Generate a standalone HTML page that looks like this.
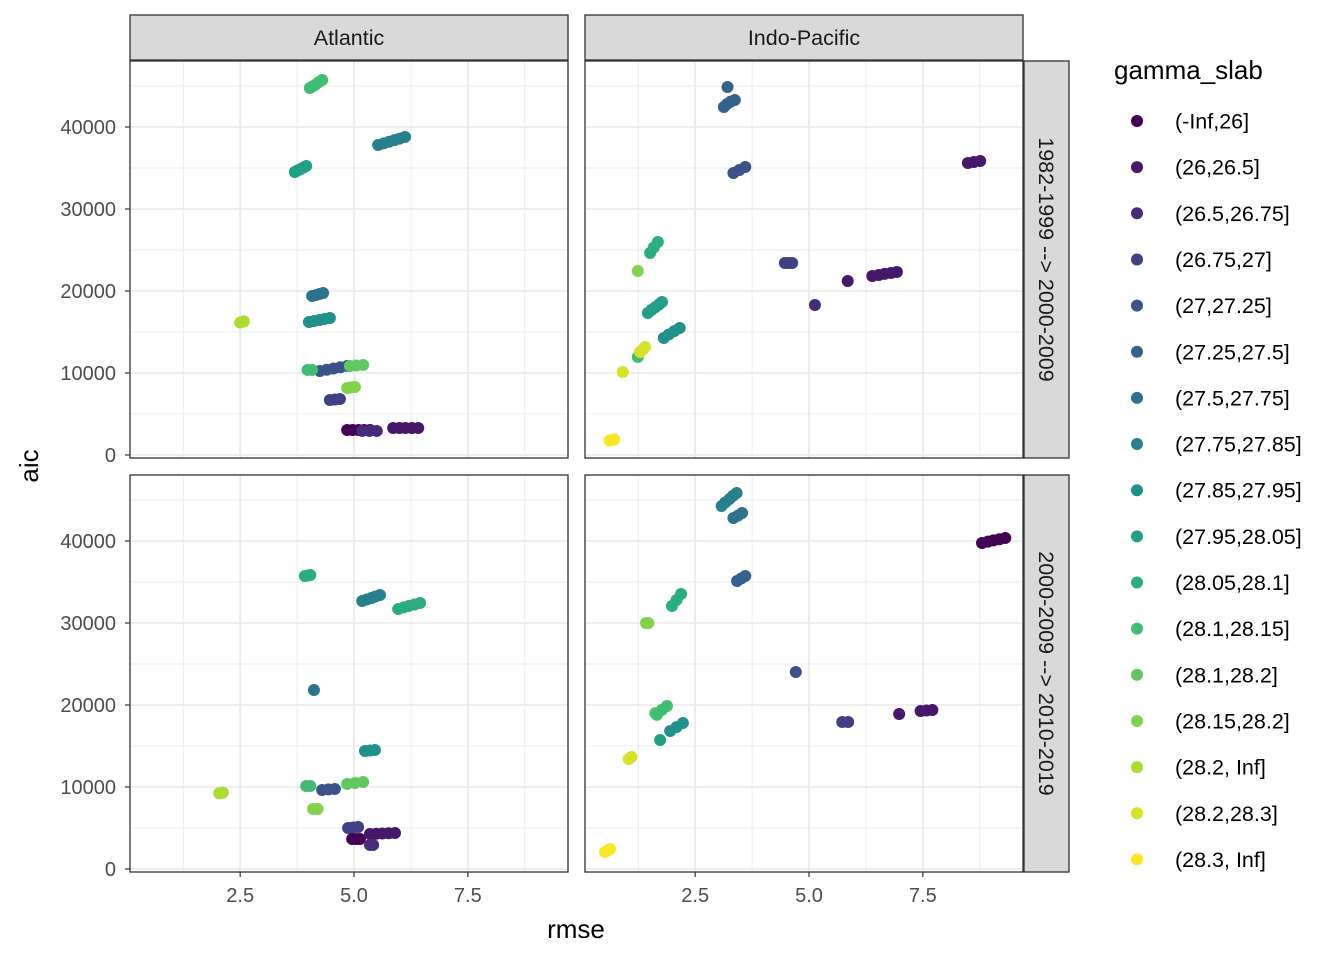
<!DOCTYPE html>
<html><head><meta charset="utf-8"><style>
body{margin:0;background:#fff;}
svg text{font-family:"Liberation Sans",sans-serif;}
</style></head><body>
<svg id="chart" width="1344" height="960" xmlns="http://www.w3.org/2000/svg"></svg>
<script>
const levelLabels=["(-Inf,26]","(26,26.5]","(26.5,26.75]","(26.75,27]","(27,27.25]","(27.25,27.5]","(27.5,27.75]","(27.75,27.85]","(27.85,27.95]","(27.95,28.05]","(28.05,28.1]","(28.1,28.15]","(28.1,28.2]","(28.15,28.2]","(28.2, Inf]","(28.2,28.3]","(28.3, Inf]"];
const xTicks=[2.5,5.0,7.5];
const xTickLabels=["2.5","5.0","7.5"];
const yTicks=[0,10000,20000,30000,40000];
const colLabels=["Atlantic","Indo-Pacific"];
const rowLabels=["1982-1999 --> 2000-2009","2000-2009 --> 2010-2019"];
// panel 0: Atlantic top, 1: Indo-Pacific top, 2: Atlantic bottom, 3: Indo-Pacific bottom
const p0x=[4.03,4.09,4.15,4.22,4.30, 5.53,5.65,5.77,5.89,6.0,6.12, 3.70,3.76,3.83,3.89,3.95, 4.08,4.16,4.24,4.32, 2.50,2.58, 4.01,4.12,4.24,4.35,4.47, 4.25,4.4,4.55,4.7,4.85, 3.98,4.08, 4.91,5.05,5.2, 4.85,4.93,5.02, 4.47,4.58,4.69, 4.85,4.97,5.1,5.22,5.35, 5.18,5.34,5.5, 5.86,6.0,6.13,6.27,6.41];
const p0y=[44760,44950,45150,45450,45730, 37800,38000,38200,38400,38580,38780, 34510,34700,34880,35060,35240, 19390,19500,19630,19760, 16150,16290, 16220,16340,16460,16580,16710, 10240,10400,10550,10700,10850, 10370,10370, 10850,10910,10980, 8170,8230,8290, 6710,6770,6830, 3050,3050,3050,3050,3050, 2930,2930,2930, 3290,3290,3290,3290,3290];
const p0l=[11,11,11,11,11, 7,7,7,7,7,7, 9,9,9,9,9, 6,6,6,6, 14,14, 8,8,8,8,8, 4,4,4,4,4, 11,11, 12,12,12, 13,13,13, 3,3,3, 0,0,0,0,0, 2,2,2, 1,1,1,1,1];
const p1x=[1.51,1.59,1.68, 1.24, 1.46,1.54,1.62,1.70,1.77, 1.81,1.92,2.04,2.16, 1.24, 1.29,1.35,1.40, 0.91, 0.62,0.72, 3.21, 3.13,3.2,3.28,3.37, 3.34,3.47,3.60, 4.47,4.55,4.63, 5.13, 5.85, 6.39,6.53,6.66,6.8,6.93, 8.49,8.62,8.76];
const p1y=[24630,25300,25980, 22440, 17320,17700,18000,18330,18660, 14270,14700,15100,15490, 11950, 12560,12860,13170, 10120, 1770,1900, 44880, 42440,42800,43100,43290, 34390,34750,35120, 23410,23410,23410, 18290, 21220, 21830,21950,22080,22200,22320, 35610,35730,35850];
const p1l=[10,10,10, 13, 9,9,9,9,9, 8,8,8,8, 11, 15,15,15, 15, 16,16, 5, 5,5,5,5, 4,4,4, 3,3,3, 2, 1, 1,1,1,1,1, 1,1,1];
const p2x=[3.92,3.98,4.04, 5.18,5.28,5.38,5.47,5.57, 5.97,6.09,6.2,6.33,6.45, 4.12, 2.04,2.12, 5.24,5.35,5.46, 3.95,4.04, 4.30,4.44,4.58, 4.85,5.02,5.2, 4.10,4.2, 4.87,4.98,5.09, 4.96,5.05,5.13, 5.35,5.49,5.62,5.76,5.90, 5.35,5.42];
const p2y=[35730,35790,35850, 32680,32870,33050,33230,33410, 31710,31900,32070,32250,32440, 21830, 9230,9310, 14390,14450,14510, 10120,10120, 9630,9700,9760, 10370,10490,10610, 7320,7320, 5000,5060,5120, 3660,3660,3660, 4270,4300,4330,4360,4390, 2930,2930];
const p2l=[10,10,10, 7,7,7,7,7, 10,10,10,10,10, 6, 14,14, 8,8,8, 11,11, 4,4,4, 12,12,12, 13,13, 3,3,3, 0,0,0, 1,1,1,1,1, 2,2];
const p3x=[3.08,3.16,3.25,3.33,3.41, 3.34,3.44,3.53, 3.42,3.51,3.60, 1.99,2.09,2.19, 1.42,1.47, 4.71, 5.73,5.86, 6.98, 7.45,7.58,7.71, 8.80,8.93,9.05,9.18,9.31, 1.62,1.66, 1.66,1.77,1.88, 1.73, 1.95,2.09,2.23, 1.04,1.10, 0.52,0.58,0.63];
const p3y=[44270,44700,45100,45500,45850, 42810,43100,43410, 35120,35430,35730, 32070,32800,33540, 30000,30000, 24020, 17930,17930, 18900, 19270,19330,19390, 39760,39920,40070,40220,40370, 19000,18800, 18900,19400,19880, 15730, 16830,17300,17800, 13400,13650, 2070,2250,2440];
const p3l=[7,7,7,7,7, 6,6,6, 5,5,5, 10,10,10, 13,13, 4, 3,3, 1, 1,1,1, 0,0,0,0,0, 12,12, 11,11,11, 9, 8,8,8, 15,15, 16,16,16];
const panelsX=[p0x,p1x,p2x,p3x], panelsY=[p0y,p1y,p2y,p3y], panelsL=[p0l,p1l,p2l,p3l];

const stops=["#440154","#482475","#414487","#355F8D","#2A788E","#21918C","#22A884","#44BF70","#7AD151","#BDDF26","#FDE725"];
function hex(c){return [1,3,5].map(i=>parseInt(c.substr(i,2),16));}
function viridis(t){const p=t*10,i=Math.min(9,Math.floor(p)),f=p-i;const a=hex(stops[i]),b=hex(stops[i+1]);return "rgb("+a.map((v,k)=>Math.round(v+(b[k]-v)*f)).join(",")+")";}
function col(l){return viridis(l/16);}

const svg=document.getElementById('chart');
const NS="http://www.w3.org/2000/svg";
function mk(tag,attrs,parent){const e=document.createElementNS(NS,tag);for(const k in attrs)e.setAttribute(k,attrs[k]);(parent||svg).appendChild(e);return e;}

const colL=[130,585], colW=438, rowT=[61,475], rowH=397;
const xMin=0.08,xMax=9.7,yMin=-370,yMax=48050;
function sx(c,v){return colL[c]+(v-xMin)/(xMax-xMin)*colW;}
function sy(r,v){return rowT[r]+rowH-(v-yMin)/(yMax-yMin)*rowH;}

for(let r=0;r<2;r++)for(let c=0;c<2;c++){
  const g=mk('g',{});
  
  
  mk('rect',{x:colL[c],y:rowT[r],width:colW,height:rowH,fill:'#fff'},g);
  for(let v=1.25;v<xMax;v+=2.5){mk('line',{x1:sx(c,v),x2:sx(c,v),y1:rowT[r],y2:rowT[r]+rowH,stroke:'#EBEBEB','stroke-width':0.9},g);}
  for(let v=5000;v<yMax;v+=10000){mk('line',{x1:colL[c],x2:colL[c]+colW,y1:sy(r,v),y2:sy(r,v),stroke:'#EBEBEB','stroke-width':0.9},g);}
  xTicks.forEach(v=>mk('line',{x1:sx(c,v),x2:sx(c,v),y1:rowT[r],y2:rowT[r]+rowH,stroke:'#EBEBEB','stroke-width':1.8},g));
  yTicks.forEach(v=>mk('line',{x1:colL[c],x2:colL[c]+colW,y1:sy(r,v),y2:sy(r,v),stroke:'#EBEBEB','stroke-width':1.8},g));
  const idx=r*2+c;
  const xs=panelsX[idx],ys=panelsY[idx],ls=panelsL[idx];
  for(let i=0;i<xs.length;i++){
    const pt=mk('circle',{cx:sx(c,xs[i]),cy:sy(r,ys[i]),r:6,fill:col(ls[i])},g);
    
    
  }
  mk('rect',{x:colL[c],y:rowT[r],width:colW,height:rowH,fill:'none',stroke:'#333','stroke-width':1.3},g);
}
colLabels.forEach((t,c)=>{
  const s=mk('rect',{x:colL[c],y:15,width:colW,height:45,fill:'#D9D9D9',stroke:'#333','stroke-width':1.3});
  
  
  const tx=mk('text',{x:colL[c]+colW/2,y:45,'text-anchor':'middle','font-size':21.5,fill:'#1A1A1A'});tx.textContent=t;
  
  
});
rowLabels.forEach((t,r)=>{
  const s=mk('rect',{x:1024,y:rowT[r],width:45,height:rowH,fill:'#D9D9D9',stroke:'#333','stroke-width':1.3});
  
  
  const cy=rowT[r]+rowH/2;
  const tx=mk('text',{x:1039,y:cy,'text-anchor':'middle','font-size':21.5,fill:'#1A1A1A',transform:'rotate(90 1039 '+cy+')'});tx.textContent=t;
  
  
});
for(let r=0;r<2;r++){yTicks.forEach(v=>{
  mk('line',{x1:125,x2:130,y1:sy(r,v),y2:sy(r,v),stroke:'#333','stroke-width':1.2});
  const t=mk('text',{x:116,y:sy(r,v)+7,'text-anchor':'end','font-size':20,fill:'#4D4D4D'});t.textContent=String(v);
  
  
});}
for(let c=0;c<2;c++){xTicks.forEach((v,i)=>{
  mk('line',{x1:sx(c,v),x2:sx(c,v),y1:872,y2:877,stroke:'#333','stroke-width':1.2});
  const t=mk('text',{x:sx(c,v),y:902,'text-anchor':'middle','font-size':20,fill:'#4D4D4D'});t.textContent=xTickLabels[i];
  
  
});}
const xt=mk('text',{x:576,y:938,'text-anchor':'middle','font-size':26,fill:'#000'});xt.textContent='rmse';


const yt=mk('text',{x:38,y:466,'text-anchor':'middle','font-size':26,fill:'#000',transform:'rotate(-90 38 466)'});yt.textContent='aic';


const lt=mk('text',{x:1114,y:79,'font-size':26,fill:'#000'});lt.textContent='gamma_slab';


levelLabels.forEach((lab,i)=>{
  const y=121+i*46.15;
  const g=mk('g',{});
  
  
  mk('circle',{cx:1137,cy:y,r:6,fill:col(i)},g);
  const t=mk('text',{x:1175,y:y+7.5,'font-size':21.5,fill:'#000'},g);t.textContent=lab;
});
</script>
</body></html>
